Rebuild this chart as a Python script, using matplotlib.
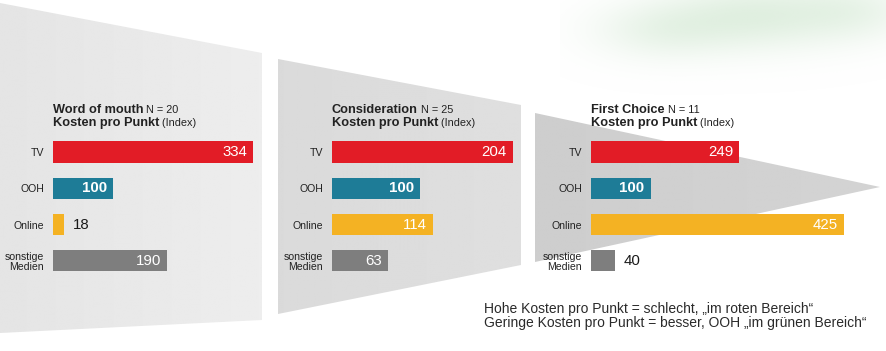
import numpy as np
import matplotlib
matplotlib.use('Agg')
import matplotlib.pyplot as plt
from matplotlib.patches import Polygon

plt.rcParams['font.family'] = ['Liberation Sans', 'DejaVu Sans']

################# DATEN ############################

KATEGORIEN = ['TV', 'OOH', 'Online', 'sonstige\nMedien']
FARBEN = ['#e21c26', '#1e7c97', '#f4b223', '#7e7e7e']

TITEL = ['Word of mouth', 'Consideration', 'First Choice']
N_WERTE = [20, 25, 11]

WERTE_WOM = [334, 100, 18, 190]
WERTE_CONSIDERATION = [204, 100, 114, 63]
WERTE_FIRST_CHOICE = [249, 100, 425, 40]

FUSSNOTE_1 = 'Hohe Kosten pro Punkt = schlecht, \u201eim roten Bereich\u201c'
FUSSNOTE_2 = 'Geringe Kosten pro Punkt = besser, OOH \u201eim gr\u00fcnen Bereich\u201c'

################# LAYOUT (Pixel) ############################

B, H = 887, 351
BALKEN_START = [53, 332, 591]
PX_PRO_EINHEIT = [0.6, 0.885, 0.595]

fig = plt.figure(figsize=(B / 100, H / 100), dpi=100)
fig.patch.set_facecolor('white')

# Hintergrund-Achse in Pixelkoordinaten
bg = fig.add_axes([0, 0, 1, 1])
bg.set_xlim(0, B)
bg.set_ylim(H, 0)
bg.axis('off')


def trapez(punkte, hell_links, hell_rechts):
    xs = [p[0] for p in punkte]
    ys = [p[1] for p in punkte]
    grad = np.linspace(hell_links, hell_rechts, 256)
    img = np.tile(grad, (2, 1))
    im = bg.imshow(img, cmap='gray', vmin=0, vmax=1, aspect='auto',
                   extent=(min(xs), max(xs), max(ys), min(ys)), zorder=1,
                   interpolation='bilinear')
    poly = Polygon(punkte, closed=True, facecolor='none', edgecolor='none',
                   transform=bg.transData)
    bg.add_patch(poly)
    im.set_clip_path(poly)


trapez([(0, 3), (262, 53), (262, 320), (0, 333)], 0.895, 0.93)
trapez([(278, 59), (521, 105), (521, 265), (278, 314)], 0.855, 0.875)
trapez([(535, 113), (880, 187), (535, 262)], 0.805, 0.83)

# gruener Aquarell-Fleck oben rechts
gx, gy = np.meshgrid(np.linspace(560, 887, 200), np.linspace(0, 110, 80))
alpha = (0.55 * np.exp(-(((gx - 760) / 90) ** 2 + ((gy - 15) / 35) ** 2))
         + 0.35 * np.exp(-(((gx - 660) / 70) ** 2 + ((gy - 30) / 30) ** 2))
         + 0.30 * np.exp(-(((gx - 860) / 60) ** 2 + ((gy - 10) / 30) ** 2)))
gruen = np.zeros(gx.shape + (4,))
gruen[..., 0] = 0.80
gruen[..., 1] = 0.90
gruen[..., 2] = 0.80
gruen[..., 3] = np.clip(alpha, 0, 0.7)
bg.imshow(gruen, extent=(560, 887, 110, 0), aspect='auto', zorder=0.5,
          interpolation='bilinear')
bg.set_xlim(0, B)
bg.set_ylim(H, 0)

################# BALKEN ############################

ACHSE_OBEN = 133.85
ACHSE_HOEHE = 145.2
ACHSE_BREITE = 262


def panel(i, werte):
    x0 = BALKEN_START[i]
    skala = PX_PRO_EINHEIT[i]
    ax = fig.add_axes([x0 / B, 1 - (ACHSE_OBEN + ACHSE_HOEHE) / H,
                       ACHSE_BREITE / B, ACHSE_HOEHE / H])
    ax.patch.set_alpha(0)
    pos = np.arange(len(KATEGORIEN))
    ax.barh(pos, werte, height=0.58, color=FARBEN, zorder=3)
    ax.set_xlim(0, ACHSE_BREITE / skala)
    ax.set_ylim(len(KATEGORIEN) - 0.5, -0.5)
    ax.set_yticks(pos)
    ax.set_yticklabels(KATEGORIEN, fontsize=7.6, color='#222222', linespacing=1.05)
    ax.tick_params(axis='y', length=0, pad=6.5)
    ax.set_xticks([])
    for s in ax.spines.values():
        s.set_visible(False)

    for j, (kat, v) in enumerate(zip(KATEGORIEN, werte)):
        gewicht = 'bold' if kat == 'OOH' else 'normal'
        if v * skala < 30:
            ax.annotate(str(v), xy=(v, j), xytext=(9, 0), textcoords='offset pixels',
                        ha='left', va='center', fontsize=10.8, color='#1a1a1a')
        else:
            ax.annotate(str(v), xy=(v, j), xytext=(-6, 0), textcoords='offset pixels',
                        ha='right', va='center', fontsize=10.8, color='white',
                        fontweight=gewicht, zorder=4)
    return ax


panel(0, WERTE_WOM)
panel(1, WERTE_CONSIDERATION)
panel(2, WERTE_FIRST_CHOICE)

################# TITEL ############################

renderer = fig.canvas.get_renderer()
for i, titel in enumerate(TITEL):
    x0 = BALKEN_START[i]
    t1 = bg.text(x0, 112.7, titel, fontsize=9.2, fontweight='bold',
                 va='baseline', ha='left', color='#222222', zorder=5)
    x_ende = t1.get_window_extent(renderer).x1
    bg.text(x_ende, 112.7, ' N = %d' % N_WERTE[i], fontsize=7.8,
            va='baseline', ha='left', color='#222222', zorder=5)
    t2 = bg.text(x0, 126, 'Kosten pro Punkt', fontsize=9.2, fontweight='bold',
                 va='baseline', ha='left', color='#222222', zorder=5)
    x_ende = t2.get_window_extent(renderer).x1
    bg.text(x_ende, 126, ' (Index)', fontsize=7.8,
            va='baseline', ha='left', color='#222222', zorder=5)

################# FUSSNOTE ############################

bg.text(484, 313, FUSSNOTE_1, fontsize=10, va='baseline', ha='left', color='#2a2a2a')
bg.text(484, 327, FUSSNOTE_2, fontsize=10, va='baseline', ha='left', color='#2a2a2a')

fig.savefig('out.png', dpi=100)
